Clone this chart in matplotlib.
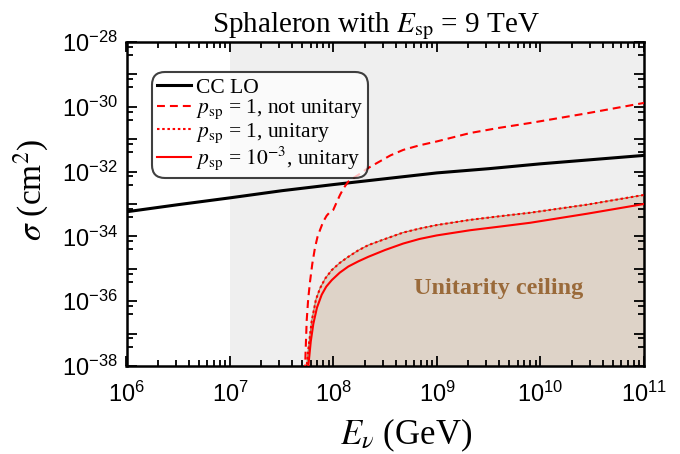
import numpy as np
import matplotlib.pyplot as plt
from matplotlib.ticker import FixedLocator, FuncFormatter

plt.rcParams['font.family'] = ['Liberation Serif', 'DejaVu Serif']
plt.rcParams['mathtext.fontset'] = 'stix'

# values (log10 of E in GeV, log10 of sigma in cm^2)
cc_logE = [6.0, 6.5, 7.0, 7.5, 8.0, 8.5, 9.0, 9.5, 10.0, 10.5, 11.0]
cc_logsig = [-33.24, -33.02, -32.81, -32.59, -32.40, -32.22, -32.04, -31.91, -31.76, -31.63, -31.50]

nu_logE = [7.72, 7.73, 7.741, 7.755, 7.773, 7.795, 7.821, 7.845, 7.870, 7.90, 7.934,
           7.965, 7.998, 8.03, 8.063, 8.10, 8.143, 8.19, 8.24, 8.33, 8.417, 8.55,
           8.674, 8.83, 8.997, 9.319, 9.6, 9.899, 10.45, 11.0]
nu_logsig = [-38.6, -37.6, -36.6, -35.95, -35.4, -34.85, -34.35, -34.02, -33.80, -33.55, -33.36,
             -33.25, -33.18, -32.95, -32.72, -32.50, -32.31, -32.20, -32.10, -31.90, -31.74, -31.50,
             -31.33, -31.19, -31.07, -30.81, -30.65, -30.50, -30.20, -29.88]

ceil_logE = [7.735, 7.741, 7.76, 7.789, 7.83, 7.870, 7.92, 7.983, 8.06, 8.143, 8.24,
             8.336, 8.498, 8.674, 8.83, 8.997, 9.319, 9.6, 9.899, 10.45, 11.0]
ceil_logsig = [-38.6, -38.0, -37.4, -36.62, -35.95, -35.6, -35.3, -35.04, -34.82, -34.63, -34.43,
               -34.27, -34.08, -33.88, -33.76, -33.65, -33.49, -33.38, -33.27, -33.02, -32.72]

small_logE = [7.75, 7.757, 7.78, 7.805, 7.84, 7.886, 7.93, 7.983, 8.06, 8.143, 8.24,
              8.336, 8.498, 8.674, 8.83, 8.997, 9.319, 9.6, 9.899, 10.45, 11.0]
small_logsig = [-38.6, -38.0, -37.25, -36.7, -36.2, -35.8, -35.55, -35.35, -35.12, -34.93, -34.77,
                -34.63, -34.42, -34.22, -34.08, -33.97, -33.81, -33.70, -33.58, -33.30, -33.00]

x_decades = [6, 7, 8, 9, 10, 11]
y_decades = [-38, -36, -34, -32, -30, -28]

def tolin(a):
    return 10.0 ** np.array(a)

fig = plt.figure(figsize=(6.8, 4.54), dpi=100)
ax = fig.add_axes([126.5/680, 1-366/454, (644-126.5)/680, (366-42)/454])

ax.axvspan(1e7, 1e11, color='#efefef', zorder=0, lw=0)

# unitarity ceiling
ax.fill_between(tolin(ceil_logE), tolin(ceil_logsig), 1e-40, color='#ded3c8', zorder=1, lw=0)
ax.plot(tolin(ceil_logE), tolin(ceil_logsig), color='#a0784c', lw=0.8, zorder=2)

ax.plot(tolin(cc_logE), tolin(cc_logsig), color='black', lw=2.2, zorder=4, label='CC LO')
ax.plot(tolin(nu_logE), tolin(nu_logsig), color='red', lw=1.5, dashes=(3.8, 2.4), zorder=4,
        label=r'$p_{\rm sp}$ = 1, not unitary')
ax.plot(tolin(ceil_logE), tolin(ceil_logsig), color='red', lw=1.5, dashes=(1.2, 1.3), zorder=4,
        label=r'$p_{\rm sp}$ = 1, unitary')
ax.plot(tolin(small_logE), tolin(small_logsig), color='red', lw=1.5, zorder=4,
        label=r'$p_{\rm sp}$ = $10^{-3}$, unitary')

ax.set_xscale('log')
ax.set_yscale('log')
ax.set_xlim(1e6, 1e11)
ax.set_ylim(1e-38, 1e-28)

ax.xaxis.set_major_locator(FixedLocator(tolin(x_decades)))
ax.yaxis.set_major_locator(FixedLocator(tolin(np.arange(-38, -27))))
xminor = [m * 10.0 ** d for d in range(6, 11) for m in range(2, 10)]
ax.xaxis.set_minor_locator(FixedLocator(xminor))
yminor = [10.0 ** (d - s) for d in range(-37, -27) for s in (0.15, 0.4)]
ax.yaxis.set_minor_locator(FixedLocator(yminor))

def fmt(v, pos):
    e = int(round(np.log10(v)))
    return r'$\mathregular{10^{%d}}$' % e

def yfmt(v, pos):
    e = int(round(np.log10(v)))
    if e in y_decades:
        return r'$\mathregular{10^{%d}}$' % e
    return ''

ax.xaxis.set_major_formatter(FuncFormatter(fmt))
ax.yaxis.set_major_formatter(FuncFormatter(yfmt))
for lab in ax.get_xticklabels() + ax.get_yticklabels():
    lab.set_family('Liberation Sans')
    lab.set_fontsize(17)

ax.tick_params(which='both', direction='in', top=True, right=True, width=1.3)
ax.tick_params(which='major', length=7)
ax.tick_params(which='minor', length=4)
ax.tick_params(axis='x', pad=11)
ax.tick_params(axis='y', pad=6)
for s in ax.spines.values():
    s.set_linewidth(1.8)

ax.set_xlabel(r'$E_\nu$ (GeV)', fontsize=25)
ax.set_ylabel(r'$\sigma$ (cm$^2$)', fontsize=24)
ax.xaxis.set_label_coords(0.54, -0.155)
ax.yaxis.set_label_coords(-0.145, 0.545)
ax.set_title(r'Sphaleron with $E_{\rm sp}$ = 9 TeV', fontsize=21, pad=5, x=0.483)

ax.text(0.72, 0.24, 'Unitarity ceiling', transform=ax.transAxes, ha='center', va='center',
        fontsize=17.5, fontweight='bold', color='#9a6a3a', zorder=3)

leg = ax.legend(loc='upper left', bbox_to_anchor=(0.049, 0.907), fontsize=15.5,
                frameon=True, fancybox=True, framealpha=0.75, edgecolor='black',
                handlelength=1.55, handletextpad=0.25, labelspacing=0.0,
                borderpad=0.25, borderaxespad=0)
leg.get_frame().set_linewidth(1.5)
leg.get_frame().set_boxstyle('round', pad=0.0, rounding_size=0.6)

fig.savefig('out.png', dpi=100)
